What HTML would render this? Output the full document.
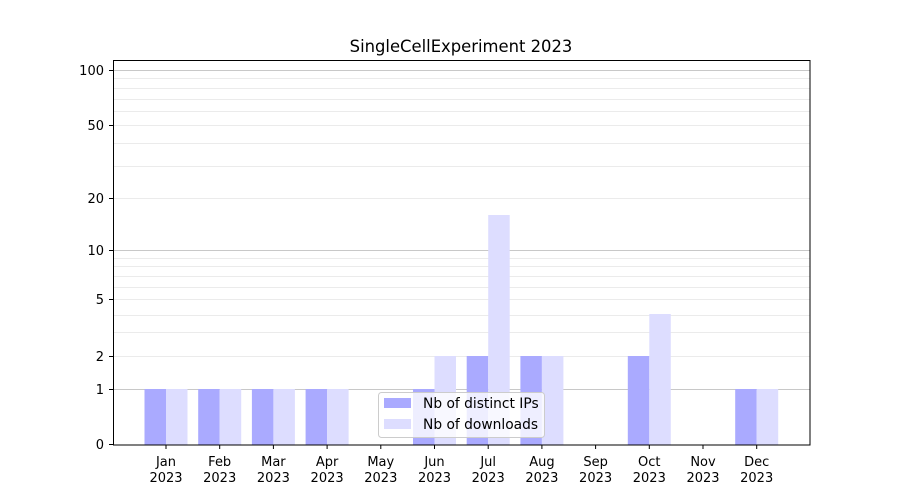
<!DOCTYPE html>
<html><head><meta charset="utf-8"><style>body{margin:0;background:#fff}svg{display:block}text{font-family:"DejaVu Sans","Liberation Sans",sans-serif;font-size:13px;fill:#000}</style></head><body>
<svg width="900" height="500" xmlns="http://www.w3.org/2000/svg">
<rect width="900" height="500" fill="#fff"/>
<g stroke="#ebebeb" stroke-width="1">
<line x1="113" x2="810" y1="78.5" y2="78.5"/><line x1="113" x2="810" y1="88.5" y2="88.5"/><line x1="113" x2="810" y1="99.5" y2="99.5"/><line x1="113" x2="810" y1="111.5" y2="111.5"/><line x1="113" x2="810" y1="125.5" y2="125.5"/><line x1="113" x2="810" y1="143.5" y2="143.5"/><line x1="113" x2="810" y1="166.5" y2="166.5"/><line x1="113" x2="810" y1="198.5" y2="198.5"/>
<line x1="113" x2="810" y1="258.5" y2="258.5"/><line x1="113" x2="810" y1="266.5" y2="266.5"/><line x1="113" x2="810" y1="276.5" y2="276.5"/><line x1="113" x2="810" y1="287.5" y2="287.5"/><line x1="113" x2="810" y1="299.5" y2="299.5"/><line x1="113" x2="810" y1="315.5" y2="315.5"/><line x1="113" x2="810" y1="332.5" y2="332.5"/><line x1="113" x2="810" y1="356.5" y2="356.5"/>
</g>
<g stroke="#c8c8c8"><line x1="113" x2="810" y1="70.5" y2="70.5"/><line x1="113" x2="810" y1="250.5" y2="250.5"/><line x1="113" x2="810" y1="389.5" y2="389.5"/></g>
<g fill="#aaaaff">
<rect x="144.5" y="389" width="21.5" height="56"/><rect x="198.2" y="389" width="21.5" height="56"/><rect x="251.9" y="389" width="21.5" height="56"/><rect x="305.6" y="389" width="21.5" height="56"/><rect x="413" y="389" width="21.5" height="56"/><rect x="466.7" y="356" width="21.5" height="89"/><rect x="520.4" y="356" width="21.5" height="89"/><rect x="627.8" y="356" width="21.5" height="89"/><rect x="735.2" y="389" width="21.5" height="56"/>
</g>
<g fill="#ddddff">
<rect x="166" y="389" width="21.5" height="56"/><rect x="219.7" y="389" width="21.5" height="56"/><rect x="273.4" y="389" width="21.5" height="56"/><rect x="327.1" y="389" width="21.5" height="56"/><rect x="434.5" y="356" width="21.5" height="89"/><rect x="488.2" y="215" width="21.5" height="230"/><rect x="541.9" y="356" width="21.5" height="89"/><rect x="649.3" y="314" width="21.5" height="131"/><rect x="756.7" y="389" width="21.5" height="56"/>
</g>
<rect x="113.5" y="60.5" width="696.5" height="384.5" fill="none" stroke="#000"/>
<g stroke="#000">
<line x1="109" x2="113" y1="70.5" y2="70.5"/><line x1="109" x2="113" y1="125.5" y2="125.5"/><line x1="109" x2="113" y1="198.5" y2="198.5"/><line x1="109" x2="113" y1="250.5" y2="250.5"/><line x1="109" x2="113" y1="299.5" y2="299.5"/><line x1="109" x2="113" y1="356.5" y2="356.5"/><line x1="109" x2="113" y1="389.5" y2="389.5"/><line x1="109" x2="113" y1="444.5" y2="444.5"/>
</g>
<g text-anchor="end">
<text x="104" y="75">100</text><text x="104" y="130">50</text><text x="104" y="203">20</text><text x="104" y="255">10</text><text x="104" y="304">5</text><text x="104" y="361">2</text><text x="104" y="394">1</text><text x="104" y="449">0</text>
</g>
<g stroke="#000">
<line x1="166" x2="166" y1="445" y2="449"/><line x1="219.7" x2="219.7" y1="445" y2="449"/><line x1="273.4" x2="273.4" y1="445" y2="449"/><line x1="327.1" x2="327.1" y1="445" y2="449"/><line x1="380.8" x2="380.8" y1="445" y2="449"/><line x1="434.5" x2="434.5" y1="445" y2="449"/><line x1="488.2" x2="488.2" y1="445" y2="449"/><line x1="541.9" x2="541.9" y1="445" y2="449"/><line x1="595.6" x2="595.6" y1="445" y2="449"/><line x1="649.3" x2="649.3" y1="445" y2="449"/><line x1="703" x2="703" y1="445" y2="449"/><line x1="756.7" x2="756.7" y1="445" y2="449"/>
</g>
<g text-anchor="middle">
<text x="166" y="466">Jan</text><text x="166" y="482">2023</text>
<text x="219.7" y="466">Feb</text><text x="219.7" y="482">2023</text>
<text x="273.4" y="466">Mar</text><text x="273.4" y="482">2023</text>
<text x="327.1" y="466">Apr</text><text x="327.1" y="482">2023</text>
<text x="380.8" y="466">May</text><text x="380.8" y="482">2023</text>
<text x="434.5" y="466">Jun</text><text x="434.5" y="482">2023</text>
<text x="488.2" y="466">Jul</text><text x="488.2" y="482">2023</text>
<text x="541.9" y="466">Aug</text><text x="541.9" y="482">2023</text>
<text x="595.6" y="466">Sep</text><text x="595.6" y="482">2023</text>
<text x="649.3" y="466">Oct</text><text x="649.3" y="482">2023</text>
<text x="703" y="466">Nov</text><text x="703" y="482">2023</text>
<text x="756.7" y="466">Dec</text><text x="756.7" y="482">2023</text>
<text x="461" y="52" style="font-size:16.4px">SingleCellExperiment 2023</text>
</g>
<rect x="378.5" y="392.5" width="166" height="45" rx="3" fill="#fff" fill-opacity="0.8" stroke="#ccc"/>
<rect x="384" y="398" width="27" height="10" fill="#aaaaff"/>
<rect x="384" y="419" width="27" height="10" fill="#ddddff"/>
<text x="423" y="408" style="font-size:13.8px">Nb of distinct IPs</text>
<text x="423" y="429" style="font-size:13.8px">Nb of downloads</text>
</svg>
</body></html>
